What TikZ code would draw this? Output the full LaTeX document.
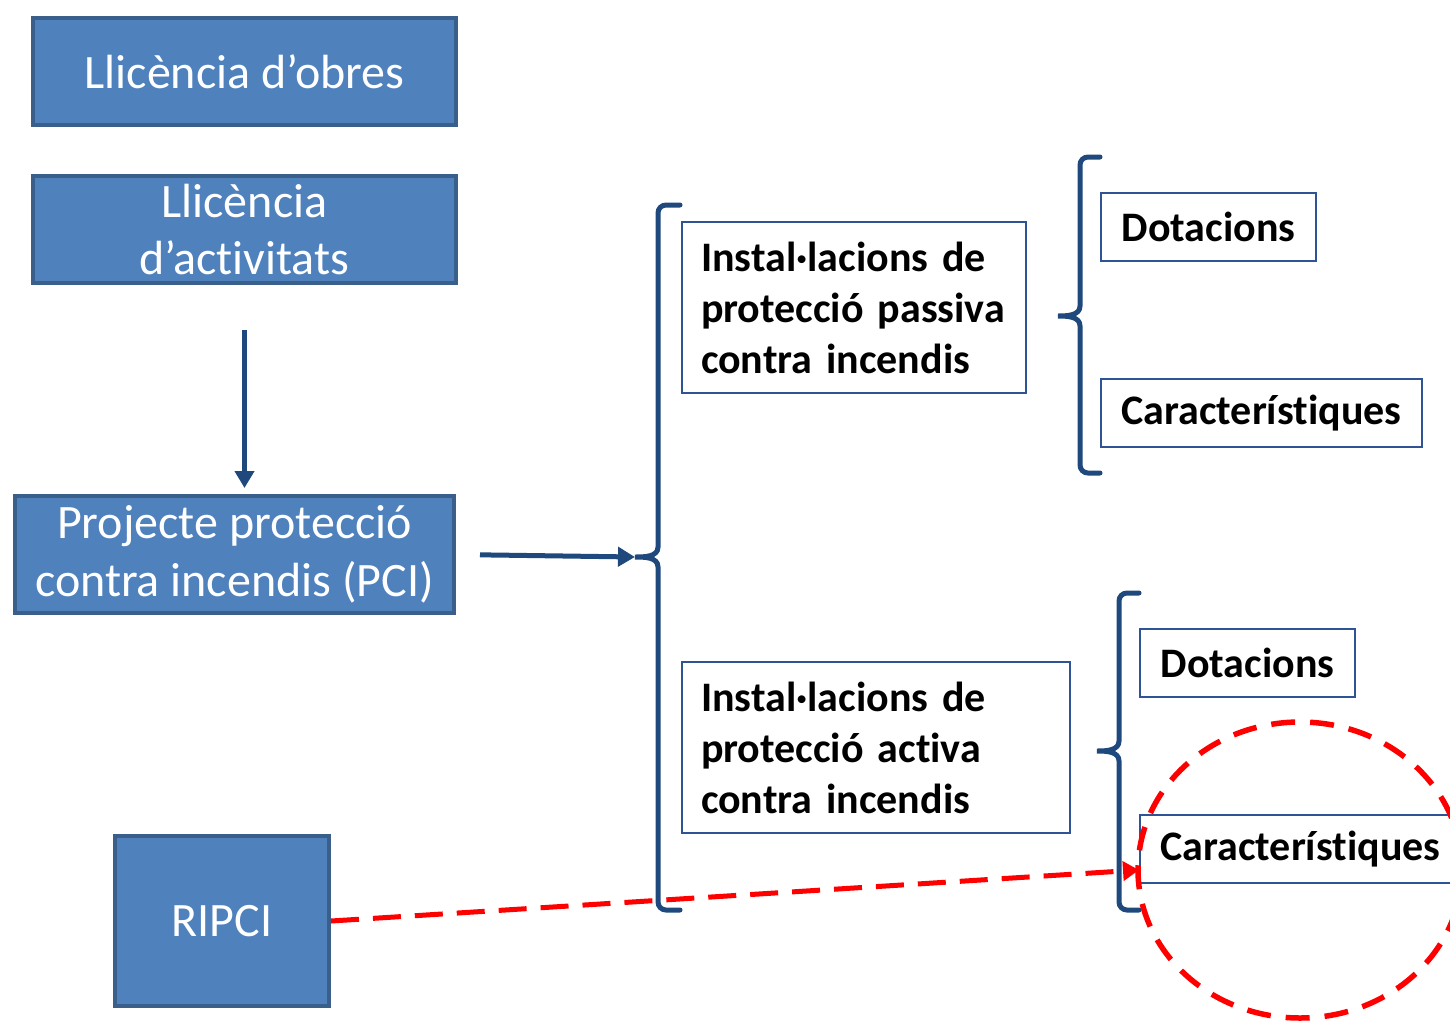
\documentclass[tikz,border=0pt]{standalone}
\usepackage{fontspec}
\setmainfont{Carlito}[Ligatures=NoCommon]
\usetikzlibrary{arrows.meta}
\definecolor{boxblue}{HTML}{4F81BD}
\definecolor{edgeblue}{HTML}{3A5F8B}
\definecolor{darkblue}{HTML}{1F497D}
\definecolor{thinblue}{HTML}{2F5496}

\begin{document}
\begin{tikzpicture}[x=1pt,y=-1pt,
  bluebox/.style={draw=edgeblue,line width=4pt,fill=boxblue,text=white,align=center,
    inner sep=0pt,font=\fontsize{48}{57.5}\selectfont},
  whitebox/.style={draw=thinblue,line width=2pt,text=black,align=left,
    inner ysep=0pt,inner xsep=19pt,font=\bfseries\fontsize{42}{51}\selectfont},
  itembox/.style={draw=thinblue,line width=2pt,text=black,inner sep=0pt,
    minimum height=68pt,font=\bfseries\fontsize{42}{51}\selectfont},
  brace/.style={draw=darkblue,line width=5pt,line cap=round},
  flow/.style={darkblue,line width=5pt,-{Triangle[length=17pt,width=19pt]}},
  ripcilink/.style={red,line width=5pt,dash pattern=on 28pt off 14pt,
    -{Triangle[length=16pt,width=19pt]}}]
  \useasboundingbox (0,0) rectangle (1450,1020);

  % left column
  \node[bluebox,minimum width=423pt,minimum height=107pt] (obres) at (244.5,71.5) {Llicència d’obres};
  \node[bluebox,minimum width=423pt,minimum height=107pt] (activ) at (244.5,229.5) {Llicència\\d’activitats};
  \node[bluebox,minimum width=439pt,minimum height=117pt] (pci) at (234.5,554.5) {Projecte protecció\\contra incendis (PCI)};
  \node[bluebox,minimum width=214pt,minimum height=170pt] (ripci) at (222,921) {RIPCI};

  % middle column
  \node[whitebox,text width=306pt,minimum height=171pt] (passiva) at (854,307.5) {Instal·lacions de\\protecció passiva\\contra incendis};
  \node[whitebox,text width=350pt,minimum height=171pt] (activa) at (876,747.5) {Instal·lacions de\\protecció activa\\contra incendis};

  % right column
  \node[itembox,minimum width=215pt] (dot1) at (1208.5,227) {Dotacions};
  \node[itembox,minimum width=321pt] (car1) at (1261.5,413) {Característiques};
  \node[itembox,minimum width=215pt] (dot2) at (1247.5,663) {Dotacions};
  \node[itembox,minimum width=321pt] (car2) at (1300.5,849) {Característiques};

  % braces
  \coordinate (tipA) at (635,557);
  \coordinate (tipB) at (1058,316);
  \coordinate (tipC) at (1097,751);
  \draw[brace] (680,205) -- (666,205) to[out=180,in=90] (658,213) -- (658,547)
    to[out=-90,in=0] (tipA) to[out=0,in=90] (658,567) -- (658,902)
    to[out=-90,in=180] (666,910) -- (680,910);
  \draw[brace] (1100,157) -- (1088,157) to[out=180,in=90] (1080,165) -- (1080,306)
    to[out=-90,in=0] (tipB) to[out=0,in=90] (1080,326) -- (1080,465)
    to[out=-90,in=180] (1088,473) -- (1100,473);
  \draw[brace] (1139,593) -- (1127,593) to[out=180,in=90] (1119,601) -- (1119,741)
    to[out=-90,in=0] (tipC) to[out=0,in=90] (1119,761) -- (1119,902)
    to[out=-90,in=180] (1127,910) -- (1139,910);

  % connectors
  \draw[flow,shorten <=45pt,shorten >=6pt] (activ.south) -- (activ.south |- pci.north);
  \draw[flow,shorten <=24pt] (pci.east) -- (tipA);
  \coordinate (ripciend) at (1139,870);
  \draw[ripcilink] (ripci.east) -- (ripciend);

  % highlight
  \draw[red,line width=5.5pt,dash pattern=on 24pt off 15pt] (1300,870) ellipse[x radius=162,y radius=148];
\end{tikzpicture}
\end{document}
